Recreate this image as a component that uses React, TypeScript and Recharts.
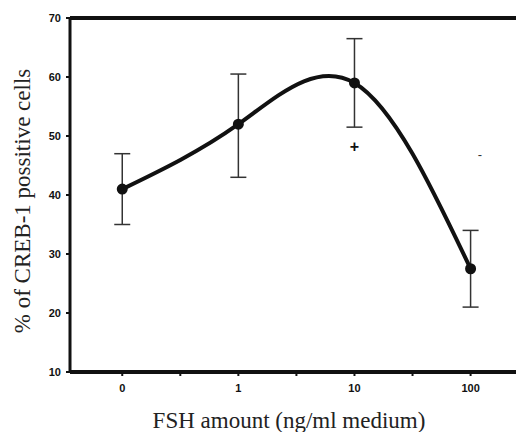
import React from "react";
import {
  LineChart,
  Line,
  XAxis,
  YAxis,
  ErrorBar,
  ReferenceLine,
  ReferenceDot,
} from "recharts";

// FSH dose categories (log spaced, drawn at equal steps)
const doses = ["0", "1", "10", "100"];
const creb1 = [41, 52, 59, 27.5];
const errLow = [6, 9, 7.5, 6.5];
const errHigh = [6, 8.5, 7.5, 6.5];
const yTicks = [10, 20, 30, 40, 50, 60, 70];
const xTicks = [0, 0.5, 1, 1.5, 2, 2.5, 3];

const data = doses.map((d, i) => ({
  x: i,
  dose: d,
  value: creb1[i],
  err: [errLow[i], errHigh[i]],
}));

const sans = "Liberation Sans, Arial, sans-serif";
const serif = "Liberation Serif";

const tickFont = {
  fontFamily: sans,
  fontSize: 11,
  fontWeight: 700,
  fill: "#111",
};

const XLabel = () => (
  <text
    x={289}
    y={428}
    textAnchor="middle"
    style={{ fontFamily: serif, fontSize: 23 }}
    fill="#222"
  >
    FSH amount (ng/ml medium)
  </text>
);

const YLabel = () => (
  <text
    x={30}
    y={201}
    transform="rotate(-90, 30, 201)"
    textAnchor="middle"
    style={{ fontFamily: serif, fontSize: 23 }}
    fill="#222"
  >
    % of  CREB-1 possitive cells
  </text>
);

export default function App() {
  return (
    <div style={{ position: "absolute", left: 0, top: 0, background: "#fff" }}>
      <LineChart
        width={524}
        height={432}
        data={data}
        margin={{ top: 18, right: 0, bottom: 0, left: 0 }}
      >
        <XAxis
          type="number"
          dataKey="x"
          domain={[-0.45, 3.46]}
          ticks={xTicks}
          tickFormatter={(v) => (Number.isInteger(v) ? doses[v] : "")}
          tick={tickFont}
          tickSize={4}
          tickMargin={8}
          height={60}
          stroke="#111"
          strokeWidth={4}
          tickLine={{ stroke: "#111", strokeWidth: 2 }}
          label={<XLabel />}
        />
        <YAxis
          type="number"
          domain={[10, 70]}
          ticks={yTicks}
          tick={tickFont}
          tickSize={4}
          tickMargin={5}
          width={70}
          stroke="#111"
          strokeWidth={3}
          tickLine={{ stroke: "#111", strokeWidth: 2 }}
          label={<YLabel />}
        />
        <ReferenceLine y={70} stroke="#111" strokeWidth={4} />
        <Line
          type="natural"
          dataKey="value"
          stroke="#111"
          strokeWidth={4}
          dot={{ r: 3.5, fill: "#111", stroke: "#111" }}
          isAnimationActive={false}
        >
          <ErrorBar
            dataKey="err"
            width={8}
            stroke="#333"
            strokeWidth={1.5}
            direction="y"
          />
        </Line>
        <ReferenceDot
          x={2}
          y={48.2}
          r={0}
          label={{ value: "+", position: "center", fontFamily: sans, fontSize: 16, fontWeight: 700, fill: "#111" }}
        />
        <ReferenceDot
          x={3.08}
          y={46.8}
          r={0}
          label={{ value: "-", position: "center", fontFamily: sans, fontSize: 13, fill: "#333" }}
        />
      </LineChart>
    </div>
  );
}
